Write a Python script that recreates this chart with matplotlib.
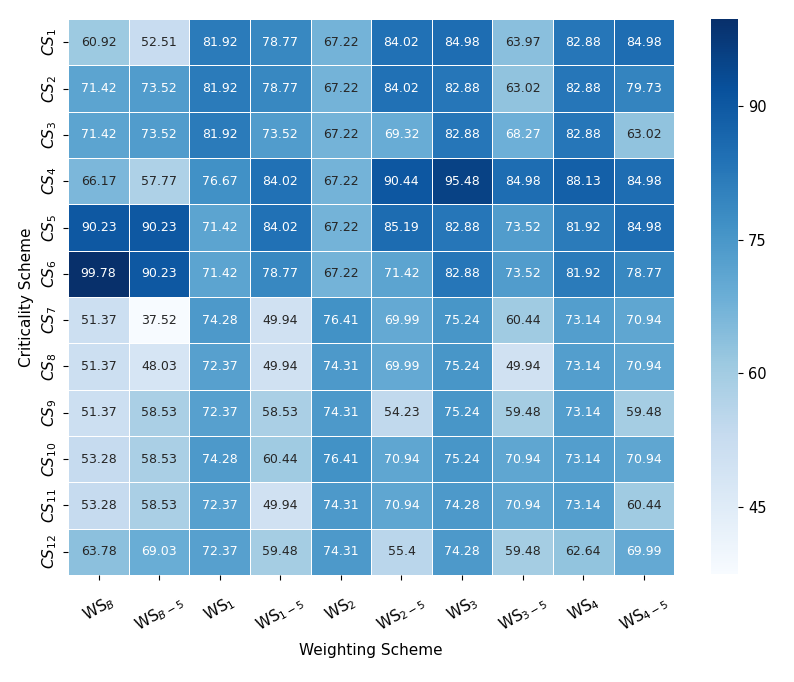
import numpy as np
import matplotlib
matplotlib.use('Agg')
from matplotlib import pyplot as plt
import seaborn as sns

ws_labels = [r'WS$_B$', r'WS$_{B-5}$', r'WS$_1$', r'WS$_{1-5}$', r'WS$_2$',
             r'WS$_{2-5}$', r'WS$_3$', r'WS$_{3-5}$', r'WS$_4$', r'WS$_{4-5}$']
cs_labels = [r'$CS_{%d}$' % i for i in range(1, 13)]

cs1 = [60.92, 52.51, 81.92, 78.77, 67.22, 84.02, 84.98, 63.97, 82.88, 84.98]
cs2 = [71.42, 73.52, 81.92, 78.77, 67.22, 84.02, 82.88, 63.02, 82.88, 79.73]
cs3 = [71.42, 73.52, 81.92, 73.52, 67.22, 69.32, 82.88, 68.27, 82.88, 63.02]
cs4 = [66.17, 57.77, 76.67, 84.02, 67.22, 90.44, 95.48, 84.98, 88.13, 84.98]
cs5 = [90.23, 90.23, 71.42, 84.02, 67.22, 85.19, 82.88, 73.52, 81.92, 84.98]
cs6 = [99.78, 90.23, 71.42, 78.77, 67.22, 71.42, 82.88, 73.52, 81.92, 78.77]
cs7 = [51.37, 37.52, 74.28, 49.94, 76.41, 69.99, 75.24, 60.44, 73.14, 70.94]
cs8 = [51.37, 48.03, 72.37, 49.94, 74.31, 69.99, 75.24, 49.94, 73.14, 70.94]
cs9 = [51.37, 58.53, 72.37, 58.53, 74.31, 54.23, 75.24, 59.48, 73.14, 59.48]
cs10 = [53.28, 58.53, 74.28, 60.44, 76.41, 70.94, 75.24, 70.94, 73.14, 70.94]
cs11 = [53.28, 58.53, 72.37, 49.94, 74.31, 70.94, 74.28, 70.94, 73.14, 60.44]
cs12 = [63.78, 69.03, 72.37, 59.48, 74.31, 55.4, 74.28, 59.48, 62.64, 69.99]

data = np.array([cs1, cs2, cs3, cs4, cs5, cs6, cs7, cs8, cs9, cs10, cs11, cs12])

if __name__ == '__main__':
    fig = plt.figure(figsize=(7.94, 6.82), dpi=100)
    ax = fig.add_axes([0.086, 0.157, 0.763, 0.815])
    cax = fig.add_axes([0.896, 0.159, 0.034, 0.813])

    sns.heatmap(data, ax=ax, cbar_ax=cax, cmap='Blues', annot=True, fmt='g',
                linewidths=0.5, linecolor='white',
                annot_kws={'fontsize': 9},
                xticklabels=ws_labels, yticklabels=cs_labels,
                cbar_kws={'ticks': [45, 60, 75, 90]})

    ax.set_xticklabels(ws_labels, rotation=30, fontsize=11)
    ax.set_yticklabels(cs_labels, rotation=90, fontsize=11, va='center')
    ax.tick_params(axis='x', pad=9)
    ax.set_xlabel('Weighting Scheme', fontsize=11, labelpad=6)
    ax.set_ylabel('Criticality Scheme', fontsize=11)
    cax.tick_params(labelsize=10.5)

    plt.savefig('out.png', dpi=100)
